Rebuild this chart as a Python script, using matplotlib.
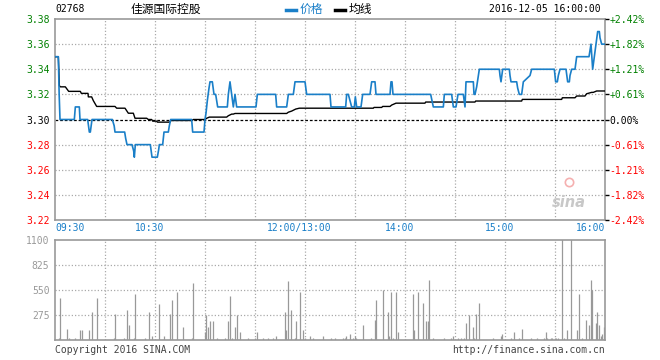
import matplotlib
matplotlib.use('Agg')
import matplotlib.pyplot as plt
from matplotlib.lines import Line2D

# ── Data (minutes after 09:30; lunch break collapsed, 12:00/13:00 = 150) ──
PRICE_T = [0, 2, 2.5, 3, 11.6, 12.2, 14.6, 15, 19.6, 20.6, 21.2, 22.2,
           34.4, 35.5, 36, 41.8, 42.4, 43.2, 46.2, 47.2, 47.6, 48.2,
           57.2, 58.2, 61.4, 62.2, 62.6, 64.6, 65, 65.4, 68, 68.6, 69.4,
           82, 82.6, 89.4, 90, 90.6, 91.4, 92.4, 93, 94.4, 95.4, 96.4, 97.6,
           103.4, 104, 105, 106, 107, 108, 109, 110, 111, 120.6, 121.4,
           132.4, 133, 139, 139.6, 140, 143, 144, 150, 150.6, 151,
           165, 165.6, 174.4, 175, 176, 177, 178, 179.6, 180.2, 181, 183.6, 184.6,
           189, 190, 192, 192.6, 201, 201.6, 202.2, 202.8, 225.4, 227,
           233, 233.6, 238, 239, 240.6, 241.8, 245, 246, 246.6,
           251, 251.4, 252, 253, 254, 254.6, 266.6, 267, 267.6, 268.6,
           272.6, 273, 273.6, 277, 277.6, 278.6, 280, 281, 285, 286,
           299.6, 300.4, 301.4, 302, 303, 306.6, 307.6, 308.6, 309, 310,
           312, 313, 320.4, 321, 321.6, 322.6, 323.6, 324.6, 325.6, 326.6,
           327, 328, 330]
PRICE = [3.35, 3.35, 3.32, 3.30, 3.30, 3.31, 3.31, 3.30, 3.30, 3.29, 3.29, 3.30,
         3.30, 3.295, 3.29, 3.29, 3.285, 3.28, 3.28, 3.275, 3.27, 3.28,
         3.28, 3.27, 3.27, 3.276, 3.28, 3.28, 3.285, 3.29, 3.29, 3.295, 3.30,
         3.30, 3.29, 3.29, 3.30, 3.305, 3.315, 3.325, 3.33, 3.33, 3.32, 3.32, 3.31,
         3.31, 3.32, 3.33, 3.32, 3.31, 3.32, 3.31, 3.31, 3.31, 3.31, 3.32,
         3.32, 3.31, 3.31, 3.316, 3.32, 3.32, 3.33, 3.33, 3.324, 3.32,
         3.32, 3.31, 3.31, 3.32, 3.32, 3.315, 3.31, 3.31, 3.318, 3.31, 3.31, 3.32,
         3.32, 3.33, 3.33, 3.32, 3.32, 3.33, 3.33, 3.32, 3.32, 3.31,
         3.31, 3.32, 3.32, 3.31, 3.31, 3.32, 3.32, 3.31, 3.33,
         3.33, 3.32, 3.32, 3.326, 3.335, 3.34, 3.34, 3.335, 3.33, 3.34,
         3.34, 3.335, 3.33, 3.33, 3.325, 3.32, 3.32, 3.33, 3.335, 3.34,
         3.34, 3.33, 3.33, 3.335, 3.34, 3.34, 3.33, 3.33, 3.335, 3.34,
         3.34, 3.35, 3.35, 3.355, 3.36, 3.34, 3.35, 3.36, 3.37, 3.37,
         3.365, 3.36, 3.36]

AVG_T = [0, 2, 2.6, 3.2, 6.2, 8.2, 15.2, 15.8, 19.8, 20, 22, 23, 25, 36, 37, 42,
         43, 44, 47, 48, 55, 56, 58, 58.6, 61, 61.4, 69, 69.4, 82, 83, 90, 91,
         92.6, 103, 104, 106, 107, 108, 139, 140, 142, 144.4, 146.6,
         191, 191.4, 196, 196.6, 201, 202, 204.6, 222, 222.4, 252, 252.4,
         280, 280.4, 304, 304.4, 312, 313, 318, 319, 322, 323, 325, 330]
AVG = [3.35, 3.35, 3.327, 3.326, 3.326, 3.3224, 3.3224, 3.3208, 3.3208, 3.318, 3.318,
       3.315, 3.3104, 3.3104, 3.309, 3.309, 3.307, 3.305, 3.305, 3.301, 3.301, 3.30,
       3.30, 3.2987, 3.2987, 3.2979, 3.2979, 3.2992, 3.2992, 3.30, 3.30, 3.301,
       3.3019, 3.3019, 3.303, 3.3043, 3.3043, 3.3048, 3.3048, 3.3058, 3.3067,
       3.3083, 3.309, 3.309, 3.3096, 3.3096, 3.3104, 3.3104, 3.3115, 3.313,
       3.313, 3.3139, 3.3139, 3.3147, 3.3147, 3.316, 3.316, 3.3173, 3.3173,
       3.3187, 3.3187, 3.3205, 3.3216, 3.3216, 3.3227, 3.3227]

VOL_T = [2.6, 3.2, 7.4, 8.6, 12.2, 15.2, 16.4, 20.6, 22.4, 25.4, 35.6, 36.2,
         41.6, 43.4, 44.6, 47.6, 48.2, 54.2, 56.6, 58.4, 62.6, 65.6, 69.2,
         70.4, 73.4, 77, 82.4, 83, 90.2, 90.8, 91.6, 93.2, 95, 97.4, 102.2,
         104, 105.2, 106.4, 108.2, 109.4, 111.2, 116, 120.2, 121.4, 125, 128,
         131, 132.8, 138.2, 138.8, 140, 141.8, 144.2, 144.8, 147.2, 149, 150.2,
         153.2, 155, 161, 165.8, 168.2, 173, 174, 174.6, 177, 179, 180, 180.6,
         185, 189.8, 192.2, 192.8, 197, 200, 200.6, 201.8, 203, 204.8, 206,
         215, 215.6, 218, 221, 222.8, 224, 224.6, 227, 233.6, 237.6, 238.8,
         242, 243.6, 245.6, 246.8, 248.6, 251, 251.6, 252.8, 254.6, 263,
         267.8, 268.4, 273.8, 275.6, 278.6, 280.4, 285.8, 289.4, 293.6, 294.8,
         295.4, 297.8, 298.4, 300.2, 300.8, 302, 304.4, 305.6, 307.4, 309.8,
         313.4, 314.6, 316.4, 318.8, 320.6, 321.8, 322.4, 324.8, 325.4, 326.6,
         327.8, 328.4, 329.6]
VOL = [22, 462, 121, 22, 22, 114, 114, 114, 312, 466, 22, 290,
       22, 334, 169, 22, 510, 22, 312, 48, 392, 48, 290,
       444, 532, 147, 22, 631, 92, 275, 147, 213, 213, 22, 22,
       213, 488, 22, 147, 275, 92, 22, 22, 92, 22, 22,
       22, 48, 312, 114, 653, 334, 22, 213, 532, 114, 22,
       48, 22, 48, 22, 18, 18, 18, 44, 66, 18, 44, 18,
       166, 18, 221, 441, 548, 309, 44, 530, 18, 530, 88,
       508, 110, 530, 408, 210, 210, 662, 18, 18, 18, 44,
       18, 18, 18, 188, 276, 143, 18, 287, 408, 18,
       44, 66, 18, 88, 18, 121, 18, 18, 18, 88,
       18, 18, 18, 18, 18, 18, 1500, 18, 110, 1400,
       110, 508, 18, 221, 166, 662, 552, 188, 309, 166,
       44, 66, 143]

PRICE_TICKS = [3.22, 3.24, 3.26, 3.28, 3.30, 3.32, 3.34, 3.36, 3.38]
PCT_LABELS = ['-2.42%', '-1.82%', '-1.21%', '-0.61%', '0.00%',
              '+0.61%', '+1.21%', '+1.82%', '+2.42%']
VOL_TICKS = [275, 550, 825, 1100]
TIME_POS = [0, 60, 150, 210, 270, 330]
TIME_LABELS = ['09:30', '10:30', '12:00/13:00', '14:00', '15:00', '16:00']

PREV_CLOSE = 3.30
BLUE = '#1a7fc8'
GREEN = '#008000'
RED = '#ff0000'
GRID = '#aaaaaa'
FRAME = '#999999'
MONO = 'DejaVu Sans Mono'


def level_color(v):
    if abs(v - PREV_CLOSE) < 1e-9:
        return 'black'
    return GREEN if v > PREV_CLOSE else RED


fig = plt.figure(figsize=(6.6, 3.6), dpi=100)
fig.patch.set_facecolor('white')
W, H = 660, 360
ax = fig.add_axes([55 / W, 1 - 220 / H, 550 / W, 201 / H])
axv = fig.add_axes([55 / W, 1 - 340 / H, 550 / W, 100 / H])

for a in (ax, axv):
    a.set_xlim(0, 330)
    for s in a.spines.values():
        s.set_color(FRAME)
        s.set_linewidth(1.2)
    a.set_xticks([])
    for m in range(30, 330, 30):
        a.axvline(m, color=GRID, lw=0.9, ls=(0, (1, 1.6)), zorder=1)

# ── Price panel ──
ax.set_ylim(3.22, 3.38)
for v in PRICE_TICKS[1:-1]:
    if abs(v - PREV_CLOSE) < 1e-9:
        ax.axhline(v, color='black', lw=0.9, ls=(0, (2.2, 1.5)), zorder=2)
    else:
        ax.axhline(v, color=GRID, lw=0.9, ls=(0, (1, 1.6)), zorder=1)

ax.plot(PRICE_T, PRICE, color=BLUE, lw=1.2, zorder=4)
ax.plot(AVG_T, AVG, color='black', lw=1.0, zorder=3)

ax.set_yticks(PRICE_TICKS)
ax.set_yticklabels([f'{v:.2f}' for v in PRICE_TICKS], family=MONO, fontsize=7)
ax.tick_params(axis='y', length=0, pad=4)
for lab, v in zip(ax.get_yticklabels(), PRICE_TICKS):
    lab.set_color(level_color(v))

ax2 = ax.twinx()
ax2.set_ylim(3.22, 3.38)
ax2.set_yticks(PRICE_TICKS)
ax2.set_yticklabels(PCT_LABELS, family=MONO, fontsize=7)
ax2.tick_params(axis='y', length=3, width=1, pad=0.3)
for s in ax2.spines.values():
    s.set_visible(False)
for tick, lab, v in zip(ax2.yaxis.get_major_ticks(), ax2.get_yticklabels(), PRICE_TICKS):
    lab.set_color(level_color(v))
    tick.tick2line.set_color(level_color(v))

for pos, lab in zip(TIME_POS, TIME_LABELS):
    ha, dx = 'center', -4
    if pos == 0:
        ha, dx = 'left', 0
    elif pos == 330:
        ha, dx = 'right', 0
    ax.annotate(lab, xy=(pos, 0), xycoords=('data', 'axes fraction'),
                xytext=(dx, -2.5), textcoords='offset points',
                ha=ha, va='top', family=MONO, fontsize=7, color=BLUE)

# sina watermark
ax.text(0.965, 0.05, 'sina', transform=ax.transAxes, fontsize=10.5,
        fontstyle='italic', fontweight='bold', color='#c8c8c8', ha='right', va='bottom')
ax.plot([0.935], [0.19], 'o', transform=ax.transAxes, ms=6, mfc='none',
        mec='#f5b0b0', mew=1.2)

# ── Volume panel ──
axv.set_ylim(0, 1100)
for v in VOL_TICKS[:-1]:
    axv.axhline(v, color=GRID, lw=0.9, ls=(0, (1, 1.6)), zorder=1)
axv.vlines(VOL_T, 0, VOL, color='#999999', lw=0.9, zorder=3)
axv.set_yticks(VOL_TICKS)
axv.set_yticklabels([str(v) for v in VOL_TICKS], family=MONO, fontsize=7, color='#999999')
axv.tick_params(axis='y', length=0, pad=4)

# ── Header / footer ──
CJK = ['Noto Sans CJK SC', 'DejaVu Sans']
fig.text(55 / W, 1 - 9 / H, '02768', family=MONO, fontsize=7, va='center', ha='left')
fig.text(166 / W, 1 - 9 / H, '佳源国际控股', family=CJK,
         fontsize=8.5, va='center', ha='center')
fig.add_artist(Line2D([286 / W, 296 / W], [1 - 10 / H] * 2, color=BLUE, lw=2.5))
fig.text(300 / W, 1 - 9 / H, '价格', family=CJK,
         fontsize=8.5, va='center', ha='left', color=BLUE)
fig.add_artist(Line2D([335 / W, 345 / W], [1 - 10 / H] * 2, color='black', lw=2.5))
fig.text(349 / W, 1 - 9 / H, '均线', family=CJK,
         fontsize=8.5, va='center', ha='left', color='black')
fig.text(601 / W, 1 - 9 / H, '2016-12-05 16:00:00', family=MONO, fontsize=7,
         va='center', ha='right')
fig.text(55 / W, 1 - 350 / H, 'Copyright 2016 SINA.COM', family=MONO, fontsize=7,
         va='center', ha='left', color='#444444')
fig.text(605 / W, 1 - 350 / H, 'http://finance.sina.com.cn', family=MONO, fontsize=7,
         va='center', ha='right', color='#444444')

fig.savefig('out.png', dpi=100, facecolor='white')
